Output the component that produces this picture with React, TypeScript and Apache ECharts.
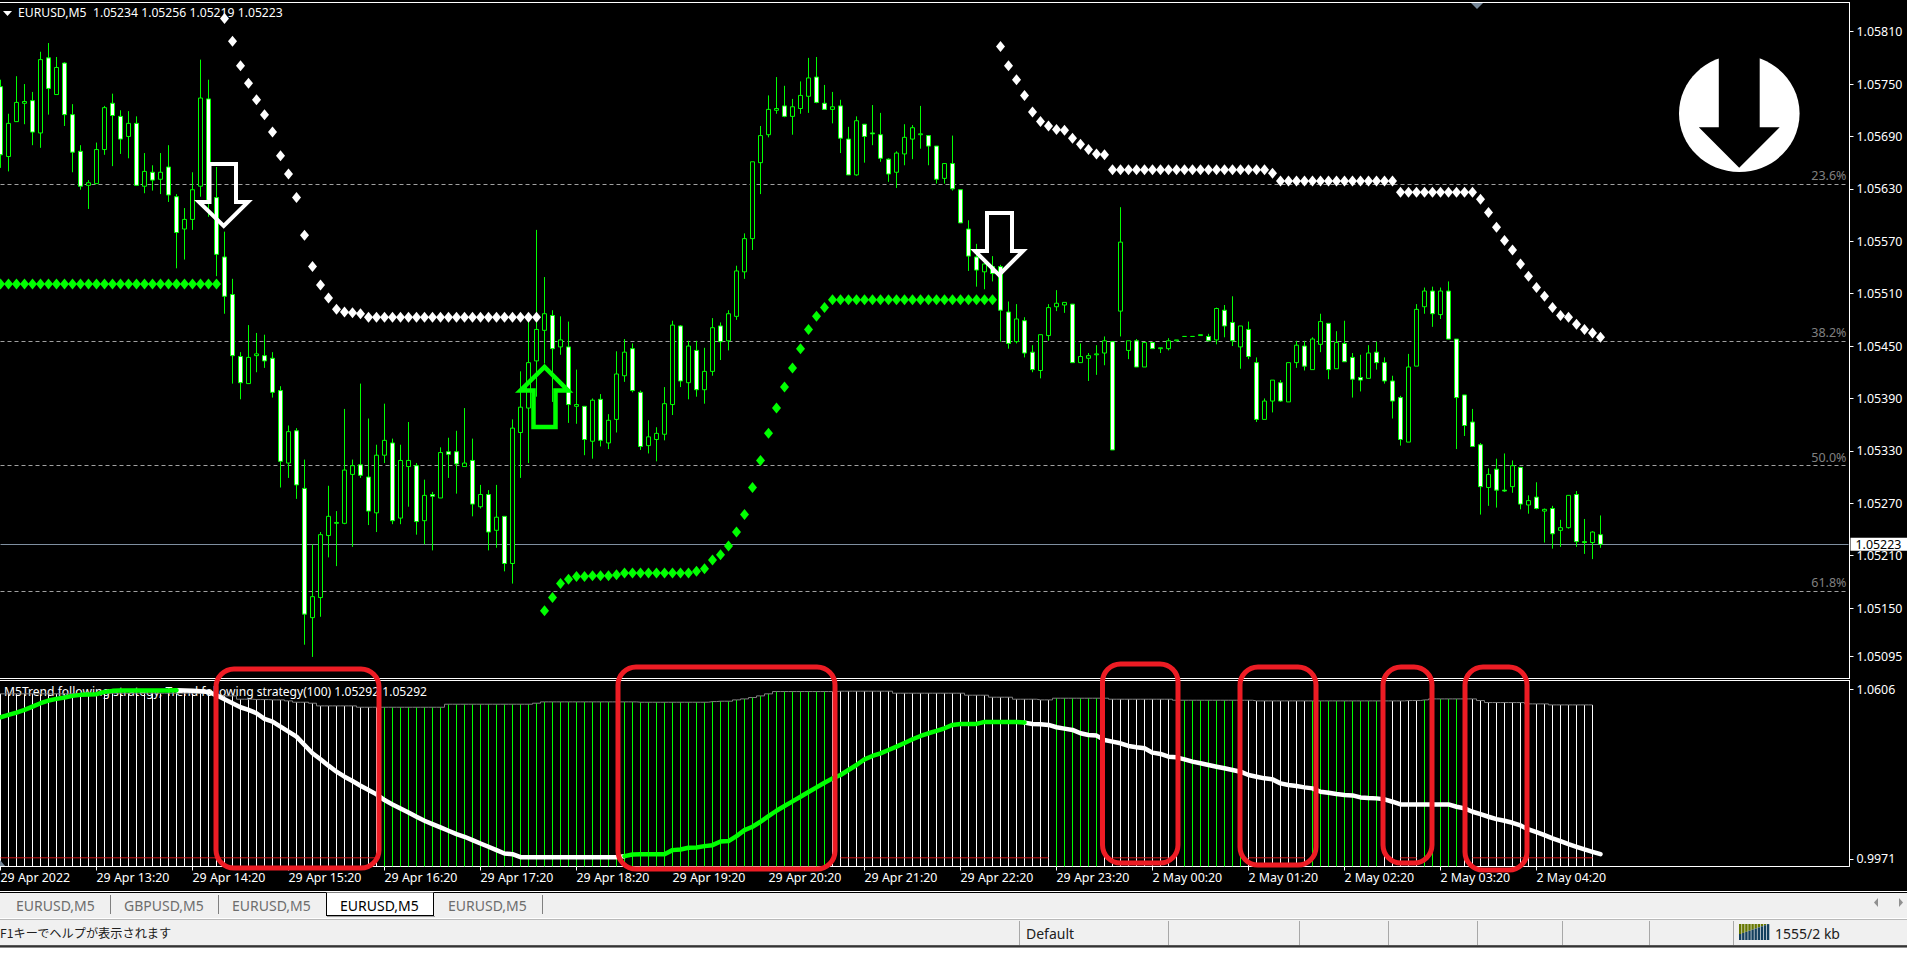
import React, { useEffect, useRef } from "react";
import * as echarts from "echarts";

// Candles in price points (1 point = 0.00001): [open, close, low, high]
const candlesA = [
[105747,105669,105654,105755],[105667,105705,105650,105716],[105707,105729,105707,105759],[105728,105730,105704,105750],[105731,105695,105680,105741],
[105694,105778,105677,105787],[105780,105745,105715,105797],[105738,105769,105738,105781],[105774,105715,105702,105775],[105715,105672,105649,105727],
[105673,105633,105629,105680],[105634,105637,105607,105640],[105636,105675,105636,105683],[105675,105723,105669,105725],[105728,105714,105656,105739],
[105713,105687,105670,105720],[105690,105705,105665,105719],[105705,105634,105634,105713],[105633,105650,105625,105671],[105649,105640,105628,105657],
[105641,105649,105624,105671],[105655,105623,105615,105680],[105621,105580,105539,105624],[105584,105595,105549,105608],[105595,105629,105583,105649],
[105633,105734,105621,105778],[105733,105617,105598,105755],[105620,105555,105530,105655],[105552,105507,105487,105581],[105509,105439,105407,105527],
[105438,105408,105389,105443],[105407,105437,105407,105474],[105439,105441,105420,105465],[105439,105433,105425,105463],[105436,105397,105391,105443],
[105399,105318,105288,105404],[105316,105352,105299,105359],[105353,105291,105275,105356],[105287,105143,105108,105320],[105139,105163,105094,105223],
[105162,105234,105140,105237],[105233,105255,105208,105290],[105247,105248,105198,105261],[105247,105308,105246,105378],[105303,105313,105220,105320],
[105314,105302,105299,105407],[105300,105261,105245,105367],[105259,105325,105237,105337],[105325,105342,105316,105384],[105339,105250,105246,105344],
];
const candlesB = [
[105253,105319,105246,105337],[105312,105319,105266,105363],[105313,105249,105234,105316],[105250,105279,105223,105297],[105280,105278,105216,105283],
[105276,105328,105276,105334],[105329,105326,105299,105345],[105329,105315,105281,105353],[105312,105316,105312,105379],[105319,105269,105255,105344],
[105266,105280,105264,105291],[105280,105237,105216,105285],[105239,105254,105219,105291],[105255,105201,105192,105255],[105201,105356,105178,105366],
[105351,105380,105299,105421],[105379,105431,105316,105478],[105433,105469,105392,105583],[105468,105487,105430,105529],[105485,105447,105386,105491],
[105449,105457,105440,105484],[105449,105383,105362,105478],[105381,105383,105361,105423],[105381,105343,105325,105381],[105341,105388,105321,105390],
[105389,105342,105335,105395],[105339,105365,105332,105372],[105366,105418,105351,105444],[105416,105443,105409,105458],[105447,105399,105397,105453],
[105397,105335,105331,105399],[105336,105346,105327,105365],[105343,105350,105318,105357],[105349,105384,105342,105403],[105383,105474,105371,105479],
[105473,105410,105403,105474],[105408,105450,105389,105456],[105445,105400,105392,105456],[105400,105421,105384,105448],[105421,105471,105416,105482],
[105473,105455,105434,105477],[105456,105487,105445,105491],[105484,105536,105480,105542],[105535,105573,105527,105579],[105573,105661,105560,105661],
[105660,105691,105624,105702],[105692,105721,105689,105737],[105720,105722,105716,105758],[105725,105713,105712,105748],[105713,105724,105692,105733],
];
const candlesC = [
[105722,105737,105716,105753],[105736,105757,105717,105780],[105758,105729,105728,105781],[105728,105721,105721,105749],[105721,105724,105705,105741],
[105725,105688,105671,105732],[105687,105646,105646,105701],[105646,105708,105645,105713],[105704,105690,105660,105704],[105694,105693,105680,105726],
[105692,105665,105661,105717],[105664,105647,105638,105665],[105649,105671,105631,105673],[105670,105689,105657,105704],[105687,105700,105664,105703],
[105692,105693,105676,105725],[105691,105679,105657,105691],[105679,105641,105636,105679],[105642,105659,105636,105659],[105659,105630,105628,105691],
[105629,105591,105591,105629],[105584,105553,105536,105594],[105552,105537,105518,105567],[105535,105544,105515,105545],[105541,105533,105524,105553],
[105541,105491,105455,105543],[105489,105453,105447,105501],[105455,105481,105453,105498],[105479,105442,105437,105483],[105443,105423,105420,105451],
[105422,105463,105413,105463],[105462,105494,105456,105498],[105495,105499,105490,105514],[105497,105500,105488,105500],[105498,105431,105431,105498],
[105431,105438,105431,105453],[105436,105439,105410,105442],[105440,105441,105417,105451],[105442,105456,105428,105461],[105455,105331,105331,105455],
[105490,105569,105461,105609],[105445,105456,105435,105456],[105456,105426,105426,105458],[105426,105454,105426,105454],[105454,105447,105447,105454],
[105447,105448,105442,105448],[105447,105456,105445,105459],[105456,105457,105456,105457],[105461,105461,105461,105461],[105461,105461,105461,105461],
];
const candlesD = [
[105462,105463,105462,105463],[105461,105456,105456,105464],[105457,105493,105452,105494],[105491,105473,105460,105497],[105477,105456,105450,105507],
[105449,105473,105424,105473],[105469,105438,105435,105478],[105431,105366,105363,105437],[105366,105387,105366,105390],[105387,105411,105374,105411],
[105408,105387,105386,105411],[105386,105431,105386,105431],[105431,105451,105425,105456],[105450,105427,105422,105456],[105423,105458,105423,105460],
[105452,105478,105443,105487],[105476,105423,105412,105476],[105424,105454,105424,105467],[105453,105432,105432,105479],[105437,105412,105391,105442],
[105414,105411,105398,105440],[105413,105442,105413,105451],[105443,105431,105423,105455],[105431,105410,105407,105437],[105410,105387,105367,105416],
[105391,105343,105336,105393],[105340,105426,105340,105441],[105427,105492,105427,105498],[105495,105513,105487,105517],[105513,105487,105472,105518],
[105486,105513,105481,105517],[105513,105458,105458,105524],[105458,105391,105332,105458],[105394,105359,105347,105394],[105363,105335,105335,105378],
[105337,105289,105257,105339],[105288,105303,105267,105310],[105309,105285,105265,105321],[105285,105284,105283,105327],[105289,105313,105282,105319],
[105311,105269,105263,105311],[105268,105273,105258,105279],[105277,105264,105263,105294],[105261,105263,105225,105264],[105264,105235,105218,105267],
[105239,105242,105220,105251],[105242,105279,105241,105279],[105280,105226,105220,105284],[105226,105225,105212,105252],[105225,105237,105206,105238],
[105234,105223,105219,105256],
];

// Trend-following dots, each run with the bar index it starts at
const greenDots1Start = 0;
const greenDots1 = [105521,105521,105521,105521,105521,105521,105521,105521,105521,105521,105521,105521,105521,105521,105521,105521,105521,105521,105521,105521,105521,105521,105521,105521,105521,105521,105521,105521];
const whiteDots1Start = 28;
const whiteDots1 = [105825,105799,105771,105751,105732,105715,105695,105668,105647,105620,105577,105541,105520,105505,105492,105489,105488,105487,105483,105483,105483,105483,105483,105483,105483,105483,105483,105483,105483,105483,105483,105483,105483,105483,105483,105483,105483,105483,105483,105483];
const greenDots2Start = 68;
const greenDots2 = [105147,105162,105178,105183,105186,105186,105187,105187,105187,105188,105190,105190,105190,105190,105190,105190,105190,105190,105190,105192,105195,105205,105211,105221,105237,105257,105288,105319,105350,105379,105403,105425,105447,105469,105484,105494,105503,105503,105503,105503,105503,105503,105503,105503,105503,105503,105503,105503,105503,105503,105503,105503,105503,105503,105503,105503,105503];
const whiteDots2Start = 125;
const whiteDots2 = [105793,105771,105755,105737,105718,105707,105702,105698,105697,105688,105681,105675,105670,105669,105652,105652,105652,105652,105652,105652,105652,105652,105652,105652,105652,105652,105652,105652,105652,105652,105652,105652,105652,105652,105648,105639,105639,105639,105639,105639,105639,105639,105639,105639,105639,105639,105639,105639,105639,105639,105626,105626,105626,105626,105626,105626,105626,105626,105626,105626,105618,105603,105586,105571,105560,105544,105530,105517,105507,105494,105485,105483,105475,105469,105465,105460];

// Price levels
const lastPrice = 105223;
const fibLevels = [105635, 105456.5, 105313, 105169];
const fibNames = ["23.6%", "38.2%", "50.0%", "61.8%"];
const priceTicks = [1.0581,1.0575,1.0569,1.0563,1.0557,1.0551,1.0545,1.0539,1.0533,1.0527,1.0521,1.0515,1.05095];

// Indicator pane: histogram top as [value, number of bars]
const histRuns = [[105900,13],[105923,14],[105823,3],[105698,2],[105685,2],[105673,2],[105635,1],[105585,2],[105548,1],[105448,5],[105397,11],[105510,11],[105548,1],[105598,12],[105585,9],[105610,1],[105623,2],[105673,1],[105710,1],[105761,1],[105823,1],[105899,1],[105986,8],[105999,7],[105923,9],[105848,3],[105773,3],[105698,3],[105673,2],[105736,7],[105698,8],[105660,10],[105635,19],[105648,2],[105673,1],[105710,6],[105648,1],[105573,5],[105523,3],[105485,6]];
// Bar index ranges [first, last]
const greenHistRanges = [[48,103],[132,137],[148,155],[164,172],[178,182]];
const redLevel = 99750;
const redRanges = [[0,47],[105,131],[139,146],[156,163],[175,177],[184,199]];
const maGreenRanges = [[0,22],[78,128]];
const maLine = [
105022,105109,105197,105297,105422,105548,105648,105710,105761,105823,105861,105873,105886,105973,106011,106024,106024,106024,106024,106024,
106024,106024,106036,106024,106011,105999,105973,105848,105698,105548,105397,105297,105172,104959,104859,104671,104483,104295,103982,103669,
103444,103206,102980,102793,102630,102455,102292,102129,101916,101753,101603,101453,101290,101140,101014,100889,100764,100639,100538,100413,
100288,100163,100038,99912,99887,99775,99775,99775,99775,99775,99775,99775,99775,99775,99775,99775,99775,99775,99812,99875,
99887,99887,99887,99887,100038,100063,100125,100138,100188,100225,100363,100376,100564,100789,100914,101102,101315,101515,101691,101866,
102041,102217,102392,102567,102730,102855,103043,103231,103444,103569,103669,103794,103920,104057,104195,104320,104421,104508,104608,104734,
104771,104771,104771,104846,104846,104846,104846,104846,104821,104771,104759,104734,104646,104596,104546,104421,104358,104333,104170,104108,
104045,103945,103895,103857,103694,103644,103544,103519,103444,103356,103294,103231,103168,103106,103043,102980,102855,102793,102730,102692,
102542,102480,102442,102392,102354,102229,102192,102141,102104,102091,102016,101991,101979,101941,101853,101753,101753,101753,101753,101753,
101753,101753,101666,101603,101478,101390,101290,101202,101140,101064,100964,100814,100714,100601,100476,100376,100263,100163,100063,99975,99887];

const indicatorTicks = [1.0606, 0.9971];
const timeTickLabels = ["29 Apr 2022","29 Apr 13:20","29 Apr 14:20","29 Apr 15:20","29 Apr 16:20","29 Apr 17:20","29 Apr 18:20","29 Apr 19:20","29 Apr 20:20","29 Apr 21:20","29 Apr 22:20","29 Apr 23:20","2 May 00:20","2 May 01:20","2 May 02:20","2 May 03:20","2 May 04:20"];
const tabNames = ["EURUSD,M5","GBPUSD,M5","EURUSD,M5","EURUSD,M5","EURUSD,M5"];

const FONT = '"Noto Sans", sans-serif';
const GREEN = "#00ff00";
const SLOTS = 232;

const px = (v: number) => v / 100000;
const inRanges = (i: number, r: number[][]) => r.some(([a, b]) => i >= a && i <= b);

function buildOption() {
  const categories = Array.from({ length: SLOTS }, (_, i) => (i % 12 === 0 && timeTickLabels[i / 12]) || String(i));
  const tickShown = (i: number) => i % 12 === 0 && i <= 192;
  const candles = [...candlesA, ...candlesB, ...candlesC, ...candlesD].map((r) => r.map(px));
  const dots = (vals: number[], start: number) => vals.map((v, k) => [start + k, px(v)]);
  const hist: number[] = [];
  histRuns.forEach(([v, n]) => { for (let k = 0; k < n; k++) hist.push(px(v)); });
  const ma = maLine.map(px);
  const maGreen = ma.map((v, i) => (inRanges(i, maGreenRanges) ? v : null));
  const maWhite = ma.map((v, i) => {
    const g = inRanges(i, maGreenRanges);
    const edge = maGreenRanges.some(([a, b]) => i === a || i === b);
    return !g || edge ? v : null;
  });
  const redLine = hist.map((_, i) => (inRanges(i, redRanges) ? px(redLevel) : null));
  const dotStyle = (color: string) => ({
    type: "scatter", xAxisIndex: 0, yAxisIndex: 0, symbol: "diamond", symbolSize: [9, 11],
    itemStyle: { color, opacity: 1 }, z: 6, silent: true,
  });
  const lineText = { color: "#fff", fontFamily: FONT, fontSize: 12.4 };

  const priceAxisBase = {
    type: "value", position: "right", offset: 1, splitLine: { show: false }, scale: true,
    axisLine: { show: true, onZero: false, lineStyle: { color: "#fff", width: 1 } },
  };

  const gfx: any[] = [];
  const rect = (x: number, y: number, w: number, h: number, fill: string, z = 10) =>
    gfx.push({ type: "rect", silent: true, z, shape: { x, y, width: w, height: h }, style: { fill } });
  const vline = (x: number, y1: number, y2: number, stroke: string, z = 12) =>
    gfx.push({ type: "line", silent: true, z, shape: { x1: x, y1, x2: x, y2 }, style: { stroke, lineWidth: 1 } });
  const hline = (y: number, x1: number, x2: number, stroke: string, z = 12) =>
    gfx.push({ type: "line", silent: true, z, shape: { x1, y1: y, x2, y2: y }, style: { stroke, lineWidth: 1 } });
  const text = (x: number, y: number, t: string, fill: string, z = 13, font = `14px ${FONT}`) =>
    gfx.push({ type: "text", silent: true, z, x, y, style: { text: t, fill, font, textVerticalAlign: "middle" } });
  const poly = (pts: number[][], style: any, z = 20) =>
    gfx.push({ type: "polygon", silent: true, z, shape: { points: pts }, style });

  // pane frame
  hline(2.5, 0, 1850, "#fff");
  hline(678.5, 0, 1850, "#fff");
  hline(680.5, 0, 1850, "#fff");
  poly([[1471, 3], [1483, 3], [1477, 9]], { fill: "#778899" });
  poly([[0, 860], [5, 866], [0, 866]], { fill: "#778899" });

  // legend texts
  poly([[3, 11], [12, 11], [7.5, 16]], { fill: "#fff" });
  text(18, 12.5, "EURUSD,M5\u00a0\u00a01.05234 1.05256 1.05219 1.05223", "#fff", 20, `12.2px ${FONT}`);
  text(4, 691.5, "M5Trend following strategy, Trend following strategy(100) 1.05292 1.05292", "#fff", 3, `12.1px ${FONT}`);

  // signal arrows
  const white = { fill: "none", stroke: "#fff", lineWidth: 4, lineJoin: "miter" };
  poly([[209.5, 164], [236, 164], [236, 202], [248, 202], [223.7, 226], [199, 202], [209.5, 202]], white);
  poly([[987, 213], [1012, 213], [1012, 251], [1023, 251], [999, 275], [975, 251], [987, 251]], white);
  poly([[533.5, 427], [555.5, 427], [555.5, 390.5], [568, 390.5], [544.5, 367], [520.5, 390.5], [533.5, 390.5]],
    { fill: "none", stroke: GREEN, lineWidth: 4.5, lineJoin: "miter" });

  // big sell badge
  gfx.push({ type: "ellipse", silent: true, z: 20, shape: { cx: 1739.3, cy: 113.5, rx: 60.3, ry: 58.5 }, style: { fill: "#fff" } });
  poly([[1718.8, 50], [1759.7, 50], [1759.7, 127.3], [1779.7, 127.3], [1739.2, 167.7], [1698.8, 127.3], [1718.8, 127.3]], { fill: "#000" }, 21);

  // hand-drawn red boxes
  [[216, 669, 379, 868], [618, 667, 835, 869], [1102.5, 664, 1178, 863], [1240, 667, 1316, 865], [1383, 667, 1432, 863], [1465, 667, 1527, 870]].forEach(
    ([a, b, c, d]) => gfx.push({
      type: "rect", silent: true, z: 22, shape: { x: a, y: b, width: c - a, height: d - b, r: 18 },
      style: { fill: "none", stroke: "#ed1c24", lineWidth: 5 },
    }));

  // tab bar and status bar
  hline(891.5, 0, 1907, "#fff");
  rect(0, 893, 1907, 25, "#f0f0f0");
  rect(0, 918, 1907, 1.5, "#fff");
  rect(0, 919.5, 1907, 26, "#f0f0f0");
  rect(0, 945.5, 1907, 2, "#333");
  rect(0, 947.5, 1907, 8, "#fff");
  rect(326.5, 892.5, 107, 23, "#fff", 11);
  vline(326.5, 893, 916, "#000");
  vline(433.5, 893, 916, "#000");
  hline(915.5, 326.5, 434, "#000");
  hline(916.5, 327, 435, "#a0a0a0");
  [16, 124, 232, 340, 448].forEach((x, i) => text(x, 905, tabNames[i], i === 3 ? "#000" : "#6d6d6d"));
  [110.5, 218.5, 542.5].forEach((x) => vline(x, 895, 914, "#808080"));
  text(0, 933, "F1キーでヘルプが表示されます", "#202020", 13, `12.2px "Noto Sans CJK JP", sans-serif`);
  text(1026, 933, "Default", "#202020");
  [1019.5, 1168.5, 1299.5, 1388.5, 1477.5, 1562.5, 1649.5, 1733.5].forEach((x) => vline(x, 921, 945, "#a8a8a8"));
  for (let k = 0; k < 10; k++) {
    const x = 1739 + k * 3.1;
    const top = 934 - k * 1.1;
    rect(x, 924, 2.4, top - 924, "#667700", 13);
    rect(x, top, 2.4, 940 - top, "#14405e", 13);
  }
  text(1775, 933, "1555/2 kb", "#202020");
  poly([[1878, 898], [1878, 907], [1874, 902.5]], { fill: "#909090" });
  poly([[1899, 898], [1899, 907], [1903, 902.5]], { fill: "#909090" });

  return {
    animation: false,
    backgroundColor: "#000",
    textStyle: { fontFamily: FONT },
    grid: [
      { left: 0.5, width: 1848, top: 2.5, height: 676, outerBoundsMode: "none" },
      { left: 0.5, width: 1848, top: 680.5, height: 186, outerBoundsMode: "none" },
    ],
    xAxis: [
      { type: "category", gridIndex: 0, data: categories, boundaryGap: false, axisLine: { show: false }, axisTick: { show: false }, axisLabel: { show: false }, splitLine: { show: false } },
      {
        type: "category", gridIndex: 1, data: categories, boundaryGap: false,
        axisLine: { show: true, lineStyle: { color: "#fff" } },
        axisTick: { show: true, length: 4, interval: (i: number) => tickShown(i), lineStyle: { color: "#fff" } },
        axisLabel: {
          show: true, interval: (i: number) => tickShown(i), align: "left", margin: 5, hideOverlap: false,
          color: "#fff", fontFamily: FONT, fontSize: 12.4,
        },
        splitLine: { show: false },
      },
    ],
    yAxis: [
      {
        ...priceAxisBase, gridIndex: 0, min: 1.050693, max: 1.058434,
        axisTick: { show: true, length: 4, customValues: priceTicks, lineStyle: { color: "#fff" } },
        axisLabel: { show: true, customValues: priceTicks, margin: 7, formatter: (v: number) => v.toFixed(5), ...lineText, showMinLabel: true, showMaxLabel: true, hideOverlap: false },
      },
      {
        ...priceAxisBase, gridIndex: 1, min: 0.99424, max: 1.064,
        axisTick: { show: true, length: 4, customValues: indicatorTicks, lineStyle: { color: "#fff" } },
        axisLabel: { show: true, customValues: indicatorTicks, margin: 7, formatter: (v: number) => v.toFixed(4), ...lineText },
      },
    ],
    graphic: { elements: gfx },
    series: [
      {
        type: "candlestick", name: "EURUSD,M5", xAxisIndex: 0, yAxisIndex: 0, data: candles, barWidth: 5, silent: true, z: 3,
        itemStyle: { color: "#000", color0: "#fff", borderColor: GREEN, borderColor0: GREEN, borderColorDoji: GREEN, borderWidth: 1 },
        markLine: {
          silent: true, symbol: "none", precision: 5, animation: false, z: 2,
          data: [
            ...fibLevels.map((v, i) => ({
              yAxis: px(v), name: fibNames[i],
              lineStyle: { color: "#a0a0a0", type: [4, 3], width: 1 },
              label: { show: true, formatter: fibNames[i], position: "insideEndTop", color: "#808080", fontFamily: FONT, fontSize: 12.5, distance: 2 },
            })),
            {
              yAxis: px(lastPrice), name: "last",
              lineStyle: { color: "#7f8fa0", type: "solid", width: 1 },
              label: {
                show: true, position: "end", formatter: "1.05223", distance: 2, color: "#000", backgroundColor: "#fff",
                fontFamily: FONT, fontSize: 12.4, padding: [0, 14, 0, 5], lineHeight: 13,
              },
            },
          ],
        },
      },
      { ...dotStyle(GREEN), name: "Support 1", data: dots(greenDots1, greenDots1Start) },
      { ...dotStyle("#fff"), name: "Resistance 1", data: dots(whiteDots1, whiteDots1Start) },
      { ...dotStyle(GREEN), name: "Support 2", data: dots(greenDots2, greenDots2Start) },
      { ...dotStyle("#fff"), name: "Resistance 2", data: dots(whiteDots2, whiteDots2Start) },
      {
        type: "bar", name: "Histogram", xAxisIndex: 1, yAxisIndex: 1, data: hist, barWidth: 1, silent: true, z: 2,
        itemStyle: { color: (p: any) => (inRanges(p.dataIndex, greenHistRanges) ? GREEN : "#fff") },
      },
      {
        type: "line", name: "Upper", xAxisIndex: 1, yAxisIndex: 1, data: hist, step: "middle", showSymbol: false, silent: true, z: 4,
        lineStyle: { color: "#808080", width: 1 },
      },
      {
        type: "line", name: "Level", xAxisIndex: 1, yAxisIndex: 1, data: redLine, showSymbol: false, silent: true, z: 4, connectNulls: false,
        lineStyle: { color: "#d01818", width: 1 },
      },
      {
        type: "line", name: "Trend white", xAxisIndex: 1, yAxisIndex: 1, data: maWhite, showSymbol: false, silent: true, z: 5,
        lineStyle: { color: "#fff", width: 4.5, cap: "round", join: "round" },
      },
      {
        type: "line", name: "Trend green", xAxisIndex: 1, yAxisIndex: 1, data: maGreen, showSymbol: false, silent: true, z: 5,
        lineStyle: { color: GREEN, width: 4.5, cap: "round", join: "round" },
      },
    ],
  };
}

export default function App() {
  const ref = useRef<HTMLDivElement>(null);
  useEffect(() => {
    document.body.style.margin = "0";
    document.body.style.overflow = "hidden";
    const chart = echarts.init(ref.current as HTMLDivElement, null, { renderer: "svg", width: 1907, height: 955 });
    chart.setOption(buildOption() as any);
    return () => chart.dispose();
  }, []);
  return <div ref={ref} style={{ width: 1907, height: 955, position: "fixed", left: 0, top: 0 }} />;
}
